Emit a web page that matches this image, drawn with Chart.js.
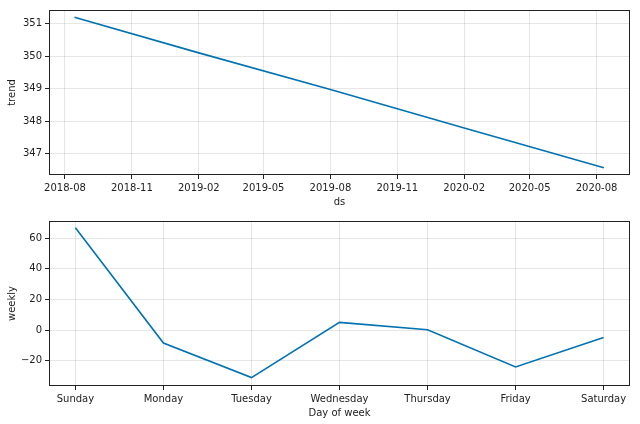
<!DOCTYPE html>
<html>
<head>
<meta charset="utf-8">
<script src="https://cdn.jsdelivr.net/npm/chart.js@4/dist/chart.umd.min.js"></script>
<style>
  body { margin: 0; background: #fff; }
  #wrap { position: relative; width: 640px; height: 424px; }
  canvas { position: absolute; left: 0; }
</style>
</head>
<body>
<div id="wrap">
  <canvas id="trendChart" width="640" height="212" style="top:0"></canvas>
  <canvas id="weeklyChart" width="640" height="212" style="top:211px"></canvas>
</div>
<script>
// trend component
const trendDates = ['2018-08-14', '2019-02-01', '2019-08-01', '2020-02-01', '2020-08-11'];
const trendValues = [351.20, 350.10, 348.97, 347.79, 346.56];
const trendTicks = ['2018-08', '2018-11', '2019-02', '2019-05', '2019-08', '2019-11', '2020-02', '2020-05', '2020-08'];
const trendYTicks = [347, 348, 349, 350, 351];

// weekly component
const weekDays = ['Sunday', 'Monday', 'Tuesday', 'Wednesday', 'Thursday', 'Friday', 'Saturday'];
const weeklyValues = [66.9, -8.5, -31.1, 5.0, 0.2, -24.1, -4.9];
const weeklyYTicks = [-20, 0, 20, 40, 60];

const FONT = { family: 'DejaVu Sans', size: 10 };
const TEXT = '#222';
const LINE = '#0072B2';
const GRID = 'rgba(128,128,128,0.2)';

function toTime(s) {
    const p = s.split('-').map(Number);
    return Date.UTC(p[0], p[1] - 1, p[2] || 1);
}

function fmtMonth(v) {
    const d = new Date(v);
    return d.getUTCFullYear() + '-' + String(d.getUTCMonth() + 1).padStart(2, '0');
}

function fmtNum(v) {
    return v < 0 ? '\u2212' + Math.abs(v) : String(v);
}

// matplotlib style frame round the plot area
const boxPlugin = {
    id: 'box',
    afterDraw(chart) {
        const a = chart.chartArea;
        const ctx = chart.ctx;
        ctx.save();
        ctx.strokeStyle = TEXT;
        ctx.lineWidth = 1;
        ctx.strokeRect(Math.round(a.left) + 0.5, Math.round(a.top) + 0.5,
            Math.round(a.right - a.left) - 1, Math.round(a.bottom - a.top) - 1);
        ctx.restore();
    }
};

function axisBase() {
    return {
        type: 'linear',
        border: { display: false },
        grid: { color: GRID, lineWidth: 1, tickColor: TEXT, tickLength: 4, tickWidth: 1 },
        ticks: { color: TEXT, font: FONT, padding: 3, maxRotation: 0, autoSkip: false }
    };
}

function buildChart(id, points, xOpts, yOpts) {
    const x = Object.assign(axisBase(), xOpts);
    const y = Object.assign(axisBase(), yOpts);
    x.afterFit = scale => { scale.height = 37; };
    y.afterFit = scale => { scale.width = 49; };
    x.ticks = Object.assign({}, x.ticks, { callback: xOpts.fmt });
    y.ticks = Object.assign({}, y.ticks, { callback: yOpts.fmt });
    delete x.fmt; delete y.fmt;

    return new Chart(document.getElementById(id).getContext('2d'), {
        type: 'line',
        data: {
            datasets: [{
                data: points,
                borderColor: LINE,
                borderWidth: 1.6,
                pointRadius: 0,
                tension: 0,
                fill: false
            }]
        },
        options: {
            responsive: false,
            animation: false,
            devicePixelRatio: 1,
            layout: { padding: { left: 0, right: 10, top: 10, bottom: 0 } },
            plugins: { legend: { display: false }, tooltip: { enabled: false } },
            scales: { x, y }
        },
        plugins: [boxPlugin]
    });
}

function axisTitle(text) {
    return { display: true, text, color: TEXT, font: FONT, padding: { top: 6, bottom: 4 } };
}

buildChart('trendChart',
    trendDates.map((d, i) => ({ x: toTime(d), y: trendValues[i] })),
    {
        min: Date.UTC(2018, 6, 10), max: Date.UTC(2020, 8, 16),
        afterBuildTicks: s => { s.ticks = trendTicks.map(t => ({ value: toTime(t) })); },
        fmt: v => fmtMonth(v),
        title: axisTitle('ds')
    },
    {
        min: 346.34, max: 351.42,
        afterBuildTicks: s => { s.ticks = trendYTicks.map(v => ({ value: v })); },
        fmt: v => fmtNum(v),
        title: axisTitle('trend')
    });

buildChart('weeklyChart',
    weeklyValues.map((v, i) => ({ x: i, y: v })),
    {
        min: -0.3, max: 6.3,
        afterBuildTicks: s => { s.ticks = weekDays.map((d, i) => ({ value: i })); },
        fmt: v => weekDays[v],
        title: axisTitle('Day of week')
    },
    {
        min: -36.6, max: 71.3,
        afterBuildTicks: s => { s.ticks = weeklyYTicks.map(v => ({ value: v })); },
        fmt: v => fmtNum(v),
        title: axisTitle('weekly')
    });
</script>
</body>
</html>
